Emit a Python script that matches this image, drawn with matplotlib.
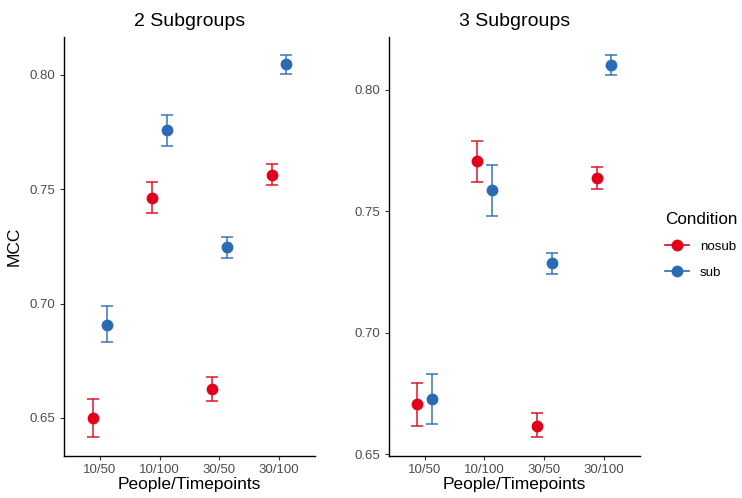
import matplotlib
matplotlib.use("Agg")
import matplotlib.pyplot as plt
from matplotlib.lines import Line2D
import numpy as np

plt.rcParams['font.family'] = ['Liberation Sans', 'DejaVu Sans']

categories = ["10/50", "10/100", "30/50", "30/100"]
conditions = ["nosub", "sub"]
colors = {"nosub": "#E3001B", "sub": "#2B6BB3"}

# 2 Subgroups
p2_nosub = [0.6499, 0.7464, 0.6627, 0.7564]
p2_nosub_lo = [0.6417, 0.7396, 0.6576, 0.7519]
p2_nosub_hi = [0.6582, 0.7534, 0.6678, 0.7611]
p2_sub = [0.6908, 0.7758, 0.7246, 0.8047]
p2_sub_lo = [0.6832, 0.7691, 0.7200, 0.8006]
p2_sub_hi = [0.6988, 0.7827, 0.7293, 0.8087]

# 3 Subgroups
p3_nosub = [0.6707, 0.7706, 0.6617, 0.7639]
p3_nosub_lo = [0.6614, 0.7622, 0.6569, 0.7592]
p3_nosub_hi = [0.6794, 0.7791, 0.6668, 0.7684]
p3_sub = [0.6726, 0.7587, 0.7287, 0.8104]
p3_sub_lo = [0.6622, 0.7482, 0.7243, 0.8063]
p3_sub_hi = [0.6829, 0.7692, 0.7330, 0.8142]

panels = [
    ("2 Subgroups", {"nosub": (p2_nosub, p2_nosub_lo, p2_nosub_hi),
                     "sub": (p2_sub, p2_sub_lo, p2_sub_hi)},
     (0.6335, 0.8166), [0.65, 0.70, 0.75, 0.80]),
    ("3 Subgroups", {"nosub": (p3_nosub, p3_nosub_lo, p3_nosub_hi),
                     "sub": (p3_sub, p3_sub_lo, p3_sub_hi)},
     (0.6493, 0.8218), [0.65, 0.70, 0.75, 0.80]),
]

fig = plt.figure(figsize=(7.42, 4.98), dpi=100)
axes_pos = [[0.0863, 0.0849, 0.3382, 0.8408], [0.5238, 0.0849, 0.3387, 0.8408]]
text_col = "#4D4D4D"
dodge = {"nosub": -0.122, "sub": 0.122}

for (title, data, ylim, yticks), pos in zip(panels, axes_pos):
    ax = fig.add_axes(pos)
    x = np.arange(1, len(categories) + 1)
    for cond in conditions:
        m, lo, hi = data[cond]
        m = np.array(m); lo = np.array(lo); hi = np.array(hi)
        ax.errorbar(x + dodge[cond], m, yerr=[m - lo, hi - m], fmt='none',
                    ecolor=colors[cond], elinewidth=1.2, capsize=4.2, capthick=1.2,
                    alpha=0.85, zorder=2)
        ax.plot(x + dodge[cond], m, 'o', color=colors[cond], markersize=8.5,
                markeredgewidth=0, zorder=3)
    ax.set_xlim(0.4, 4.6)
    ax.set_ylim(*ylim)
    ax.set_xticks(x)
    ax.set_xticklabels(categories)
    ax.set_yticks(yticks)
    ax.set_yticklabels([f"{v:.2f}" for v in yticks])
    for s in ["top", "right"]:
        ax.spines[s].set_visible(False)
    for s in ["left", "bottom"]:
        ax.spines[s].set_linewidth(1.0)
        ax.spines[s].set_color("black")
    ax.tick_params(axis='both', labelsize=9.5, colors="#333333", labelcolor=text_col,
                   length=3, width=0.8, pad=3)
    ax.set_xlabel("People/Timepoints", fontsize=12.5, labelpad=1)
    ax.set_title(title, fontsize=14, pad=8)

fig.axes[0].set_ylabel("MCC", fontsize=12.5, labelpad=6)

handles = [Line2D([0], [0], color=colors[c], marker='o', markersize=8.5,
                  markeredgewidth=0, linewidth=1.2) for c in conditions]
fig.legend(handles, conditions, title="Condition", loc="center left",
           bbox_to_anchor=(0.8806, 0.507), frameon=False, fontsize=9.6,
           title_fontsize=12.3, handlelength=1.8, labelspacing=1.0,
           handletextpad=0.8, alignment='left')

fig.savefig("out.png", dpi=100)
